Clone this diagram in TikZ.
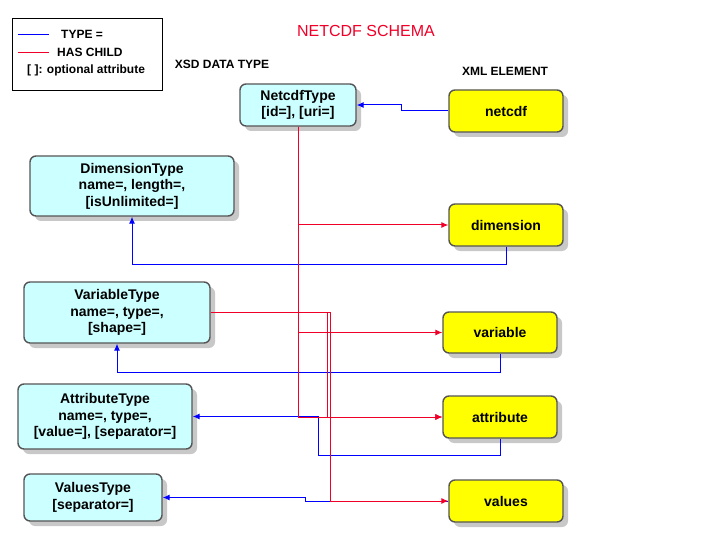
\documentclass[tikz,border=0pt]{standalone}
\usepackage{fontspec}
\setmainfont{Liberation Sans}
\usetikzlibrary{shadows,arrows.meta,calc}
\definecolor{typeblue}{RGB}{0,0,255}
\definecolor{childred}{RGB}{240,0,40}
\definecolor{xsdfill}{RGB}{204,255,255}
\definecolor{xmlfill}{RGB}{255,255,0}
\definecolor{boxborder}{RGB}{85,85,85}
\definecolor{shadowgrey}{RGB}{200,200,200}
\tikzset{
  box/.style={draw=boxborder, line width=1.4pt, rounded corners=6pt, inner sep=0pt, align=center,
    font=\bfseries\fontsize{14}{16.5}\selectfont,
    drop shadow={shadow xshift=5pt, shadow yshift=-5pt, fill=shadowgrey, opacity=1}},
  xsdbox/.style={box, fill=xsdfill},
  xmlbox/.style={box, fill=xmlfill},
  typeof/.style={draw=typeblue, line width=1pt, -{Latex[length=7pt,width=6pt]}},
  haschild/.style={draw=childred, line width=1pt, -{Latex[length=7pt,width=6pt]}},
  plainlbl/.style={inner sep=0pt, font=\bfseries\fontsize{12}{13}\selectfont},
}
\begin{document}
\begin{tikzpicture}[x=1pt,y=-1pt]
\useasboundingbox (0,0) rectangle (720,540);
% legend
\node[draw=black, line width=0.8pt, minimum width=150pt, minimum height=72pt, inner sep=0pt] (legend) at (87,54) {};
\coordinate (lb1) at (18,34); \coordinate (lb2) at (49,34);
\coordinate (lr1) at (18,52); \coordinate (lr2) at (49,52);
\draw[typeblue, line width=0.9pt] (lb1) -- (lb2);
\draw[childred, line width=0.9pt] (lr1) -- (lr2);
\node[plainlbl, anchor=west] (ltype) at (61,34) {TYPE =};
\node[plainlbl, anchor=west] (lchild) at (57,52) {HAS CHILD};
\node[plainlbl, anchor=west] (lopt) at (27,70) {[ ]: optional attribute};
% titles
\node[inner sep=0pt, text=childred, font=\fontsize{16}{18}\selectfont] (title) at (366,31) {NETCDF SCHEMA};
\node[plainlbl] (xsd) at (222,64) {XSD DATA TYPE};
\node[plainlbl] (xml) at (505,71) {XML ELEMENT};
% boxes
\node[xsdbox, minimum width=116pt, minimum height=42pt] (ntype) at (298,105) {NetcdfType\\ {[id=], [uri=]}};
\node[xmlbox, minimum width=114pt, minimum height=42pt] (netcdf) at (506,111) {netcdf};
\node[xsdbox, minimum width=204pt, minimum height=60pt] (dtype) at (132,186) {DimensionType\\ name=, length=,\\ {[isUnlimited=]}};
\node[xmlbox, minimum width=114pt, minimum height=42pt] (dim) at (506,225) {dimension};
\node[xsdbox, minimum width=186pt, minimum height=61pt] (vtype) at (117,312.5) {VariableType\\ name=, type=,\\ {[shape=]}};
\node[xmlbox, minimum width=114pt, minimum height=41pt] (var) at (500,332.5) {variable};
\node[xsdbox, minimum width=174pt, minimum height=65pt] (atype) at (105,416.5) {AttributeType\\ name=, type=,\\ {[value=], [separator=]}};
\node[xmlbox, minimum width=114pt, minimum height=42pt] (attr) at (500,417) {attribute};
\node[xsdbox, minimum width=138pt, minimum height=47pt] (valtype) at (93,497.5) {ValuesType\\ {[separator=]}};
\node[xmlbox, minimum width=114pt, minimum height=42pt] (vals) at (506,501) {values};
% helper coordinates
\coordinate (bx) at (318,0);
\coordinate (rx1) at (327.5,0);
\coordinate (rx2) at (330.5,0);
% TYPE = connectors (blue)
\draw[typeof] (netcdf.west) -- ++(-47,0) |- (ntype.east);
\draw[typeof] (dim.south) -- ++(0,18) -| (dtype.south);
\draw[typeof] (var.south) -- ++(0,19) -| (vtype.south);
\draw[typeof] (attr.south) -- ++(0,17) -| (bx |- atype.east) -- (atype.east);
\draw[typeof] (vals.west) -- ++(-143,0) |- (valtype.east);
% HAS CHILD connectors (red)
\draw[haschild] (ntype.south) |- (dim.west);
\draw[haschild] (ntype.south) |- (var.west);
\draw[haschild] (ntype.south) |- (attr.west);
\draw[haschild] (vtype.east) -| (rx1 |- attr.west) -- (attr.west);
\draw[haschild] (vtype.east) -| (rx2 |- vals.west) -- (vals.west);
\end{tikzpicture}
\end{document}
